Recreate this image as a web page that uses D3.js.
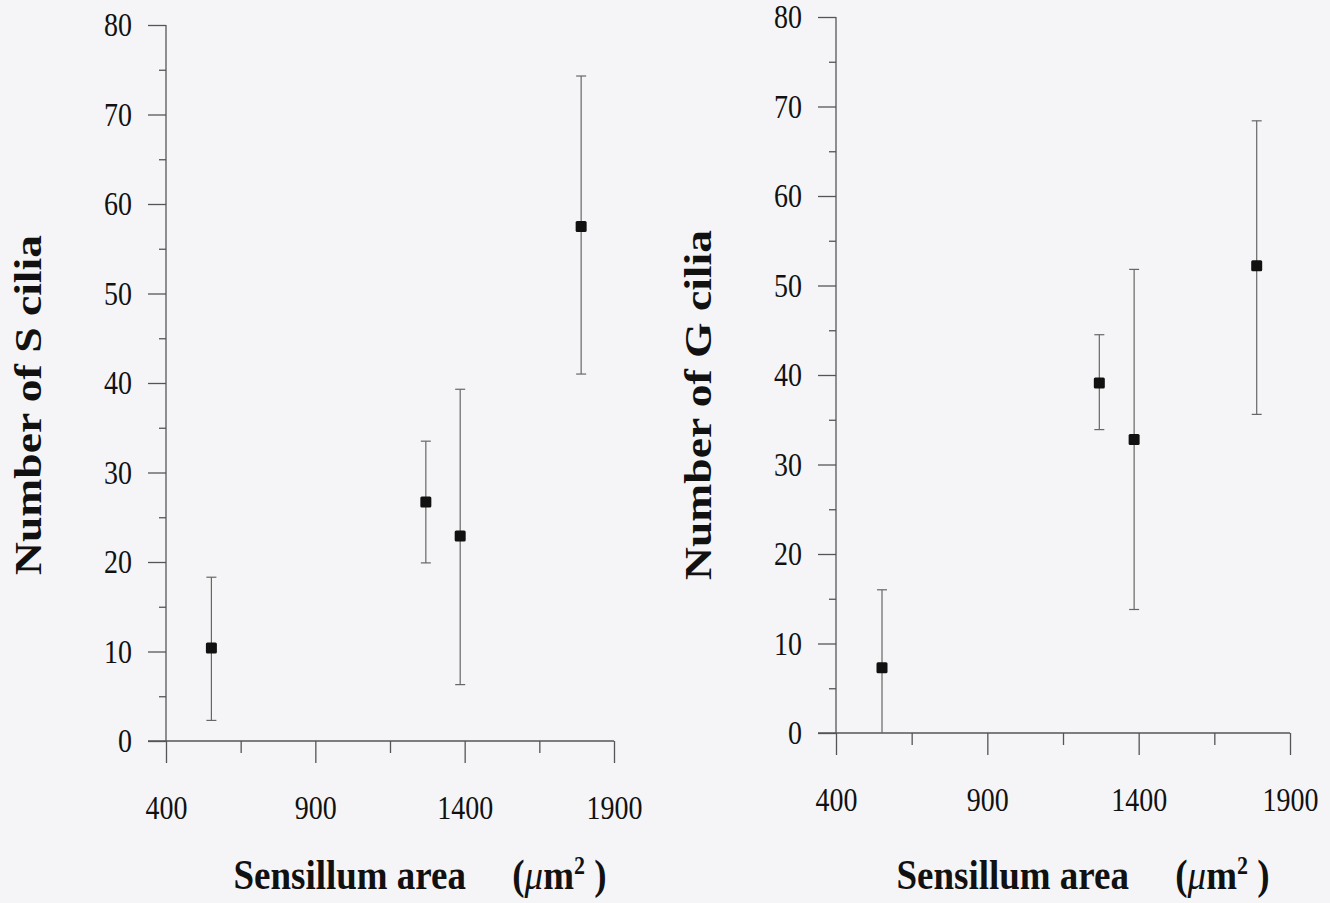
<!DOCTYPE html>
<html>
<head>
<meta charset="utf-8">
<script src="https://cdnjs.cloudflare.com/ajax/libs/d3/7.8.5/d3.min.js"></script>
<style>
  body { margin: 0; background: #f5f5f7; }
  svg { display: block; }
  .tick text { font-family: "Liberation Serif", "Times New Roman", serif; fill: #111; }
  .title { font-family: "Liberation Serif", "Times New Roman", serif; font-weight: bold; fill: #111; }
</style>
</head>
<body>
<script>
// sensillum area (um^2) of the four sensilla
var area = [552, 1270, 1385, 1790];

// number of S cilia: mean, lower and upper end of the bar
var sMean = [10.4, 26.7, 22.9, 57.5];
var sLow  = [2.3, 19.9, 6.3, 41.0];
var sHigh = [18.3, 33.5, 39.3, 74.3];

// number of G cilia
var gMean = [7.3, 39.1, 32.8, 52.2];
var gLow  = [0, 33.9, 13.8, 35.6];
var gHigh = [16.0, 44.5, 51.8, 68.4];

var xTicks = [400, 900, 1400, 1900];
var xMinor = [650, 1150, 1650];
var yTicks = [0, 10, 20, 30, 40, 50, 60, 70, 80];
var yMinor = [5, 15, 25, 35, 45, 55, 65, 75];

var width = 1330, height = 903;
var axisCol = "#555";
var stretch = 1.2;   // the scanned lettering is a bit taller than wide

var svg = d3.select("body").append("svg")
    .attr("width", width)
    .attr("height", height);

// move a tick label's x/y into a transform so it can be stretched vertically
var tallText = function(sel) {
    sel.each(function() {
        var t = d3.select(this);
        var tx = +t.attr("x") || 0, ty = +t.attr("y") || 0;
        t.attr("x", 0).attr("y", 0)
         .attr("transform", "translate(" + tx + "," + ty + ") scale(1," + stretch + ")");
    });
};

var panel = function(p) {
    var x = d3.scaleLinear().domain([400, 1900]).range([p.left, p.right]);
    var y = d3.scaleLinear().domain([0, 80]).range([p.bottom, p.top]);
    var g = svg.append("g");

    // y axis: major ticks with labels, then short minor ticks
    var ya = g.append("g")
        .attr("transform", "translate(" + p.left + ",0)")
        .call(d3.axisLeft(y).tickValues(yTicks).tickSize(18).tickPadding(16).tickSizeOuter(0));
    ya.select(".domain").remove();
    g.append("g")
        .attr("transform", "translate(" + p.left + ",0)")
        .call(d3.axisLeft(y).tickValues(yMinor).tickSize(7).tickFormat(""))
        .select(".domain").remove();

    // x axis
    var xa = g.append("g")
        .attr("transform", "translate(0," + p.bottom + ")")
        .call(d3.axisBottom(x).tickValues(xTicks).tickFormat(d3.format("d"))
              .tickSize(22).tickPadding(32).tickSizeOuter(0));
    xa.select(".domain").remove();
    g.append("g")
        .attr("transform", "translate(0," + p.bottom + ")")
        .call(d3.axisBottom(x).tickValues(xMinor).tickSize(12).tickFormat(""))
        .select(".domain").remove();

    g.selectAll(".tick line").attr("stroke", axisCol).attr("stroke-width", 1.3);
    g.selectAll(".tick text").style("font-size", "28px").call(tallText);

    // axis lines, the x one runs a bit to the left of the y axis
    g.append("line")
        .attr("x1", x(400)).attr("x2", x(400))
        .attr("y1", y(80)).attr("y2", y(0))
        .attr("stroke", axisCol).attr("stroke-width", 1.3);
    g.append("line")
        .attr("x1", x(400) - 18).attr("x2", x(1900))
        .attr("y1", y(0)).attr("y2", y(0))
        .attr("stroke", axisCol).attr("stroke-width", 1.3);

    var rows = area.map(function(a, i) {
        return {a: a, m: p.mean[i], lo: p.low[i], hi: p.high[i]};
    });

    // error bars
    g.selectAll(".bar")
        .data(rows)
      .enter().append("line")
        .attr("class", "bar")
        .attr("x1", function(d) { return x(d.a); })
        .attr("x2", function(d) { return x(d.a); })
        .attr("y1", function(d) { return y(d.lo); })
        .attr("y2", function(d) { return y(d.hi); })
        .attr("stroke", "#666").attr("stroke-width", 1.2);
    ["lo", "hi"].forEach(function(k) {
        g.selectAll(".cap-" + k)
            .data(rows.filter(function(d) { return d[k] > 0; }))
          .enter().append("line")
            .attr("x1", function(d) { return x(d.a) - 5; })
            .attr("x2", function(d) { return x(d.a) + 5; })
            .attr("y1", function(d) { return y(d[k]); })
            .attr("y2", function(d) { return y(d[k]); })
            .attr("stroke", "#666").attr("stroke-width", 1.2);
    });

    // mean markers
    g.selectAll(".pt")
        .data(rows)
      .enter().append("rect")
        .attr("class", "pt")
        .attr("x", function(d) { return x(d.a) - 5.5; })
        .attr("y", function(d) { return y(d.m) - 5.5; })
        .attr("width", 11).attr("height", 11)
        .attr("rx", 1.5)
        .attr("fill", "#111");

    g.append("text")
        .attr("class", "title")
        .attr("transform", "translate(" + p.ytx + "," + p.ytc + ") rotate(-90) scale(" + stretch + ",1)")
        .attr("text-anchor", "middle")
        .attr("dy", "0.35em")
        .style("font-size", "38px")
        .text(p.ylabel);

    var t = g.append("text")
        .attr("class", "title")
        .attr("transform", "translate(" + p.xtx + ",889) scale(1,1.12)")
        .attr("text-anchor", "middle")
        .style("font-size", "37px");
    t.append("tspan").text("Sensillum area\u00a0\u00a0\u00a0\u00a0 (");
    t.append("tspan").style("font-style", "italic").style("font-weight", "normal").text("\u03bc");
    t.append("tspan").text("m");
    t.append("tspan").attr("dy", "-13").style("font-size", "22px").text("2");
    t.append("tspan").attr("dy", "13").text("\u00a0)");
};

panel({left: 166, right: 614, top: 25, bottom: 741, ytx: 28, ytc: 405, xtx: 420,
       mean: sMean, low: sLow, high: sHigh, ylabel: "Number of S cilia"});
panel({left: 836, right: 1290, top: 17, bottom: 733, ytx: 698, ytc: 405, xtx: 1083,
       mean: gMean, low: gLow, high: gHigh, ylabel: "Number of G cilia"});
</script>
</body>
</html>
